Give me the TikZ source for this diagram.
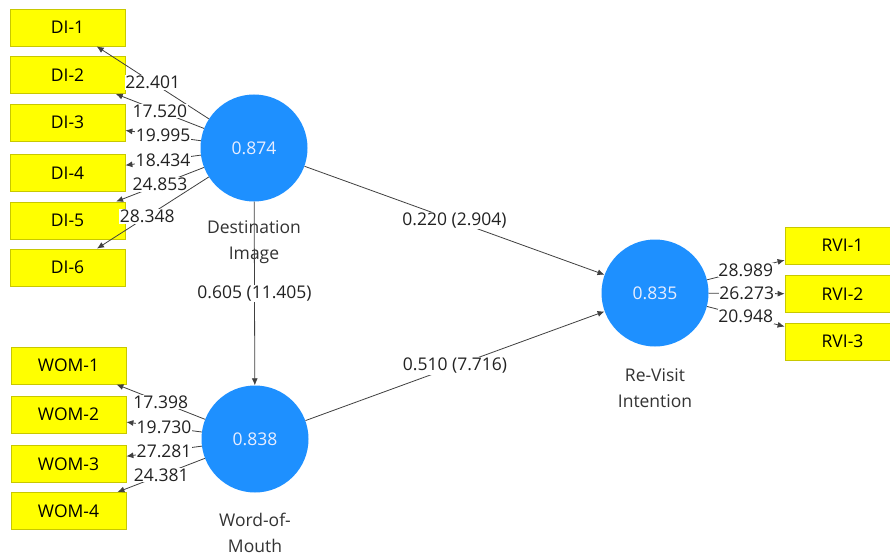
\documentclass[tikz,border=0pt]{standalone}
\usepackage{fontspec}
\setmainfont{Open Sans}
\usetikzlibrary{arrows.meta}
\definecolor{lvblue}{HTML}{1E90FF}
\definecolor{boxedge}{HTML}{C8C800}
\definecolor{boxfill}{HTML}{FFFF00}
\definecolor{linegray}{HTML}{404040}
\definecolor{txtgray}{HTML}{222222}
\definecolor{captext}{HTML}{333333}
\definecolor{innertxt}{HTML}{E8EEFF}
\begin{document}
\begin{tikzpicture}[x=1pt,y=-1pt,
  ind/.style={rectangle, draw=boxedge, line width=0.8pt, fill=boxfill, minimum width=115pt, minimum height=37pt, inner sep=0pt, font=\fontsize{17.5}{20}\selectfont, text=black},
  lat/.style={circle, fill=lvblue, minimum size=107pt, inner sep=0pt, text=innertxt, font=\fontsize{17.5}{20}\selectfont},
  ld/.style={draw=linegray, line width=0.8pt, -{Latex[length=7pt,width=6pt]}},
  val/.style={fill=white, inner sep=0.8pt, font=\fontsize{17.5}{20}\selectfont, text=txtgray},
  captxt/.style={align=center, font=\fontsize{17.5}{25.5}\selectfont, text=captext}
]
\clip (0,0) rectangle (890,556);
\fill[white] (0,0) rectangle (890,556);

% indicators
\node[ind] (DI1) at (67.5,27.5) {DI-1};
\node[ind] (DI2) at (67.5,75) {DI-2};
\node[ind] (DI3) at (67.5,122.5) {DI-3};
\node[ind] (DI4) at (67.5,173) {DI-4};
\node[ind] (DI5) at (67.5,220.5) {DI-5};
\node[ind] (DI6) at (67.5,267.5) {DI-6};
\node[ind] (WOM1) at (68.5,365.5) {WOM-1};
\node[ind] (WOM2) at (68.5,414.5) {WOM-2};
\node[ind] (WOM3) at (68.5,464) {WOM-3};
\node[ind] (WOM4) at (68.5,511) {WOM-4};
\node[ind] (RVI1) at (842.5,245.5) {RVI-1};
\node[ind] (RVI2) at (842.5,294) {RVI-2};
\node[ind] (RVI3) at (842.5,341.5) {RVI-3};

% latent variables
\node[lat] (DI) at (254,148) {0.874};
\node[lat] (WOM) at (255,439) {0.838};
\node[lat] (RVI) at (655,293) {0.835};

\node[captxt] (DIc) at (254,242) {Destination\\Image};
\node[captxt] (WOMc) at (255,533) {Word-of-\\Mouth};
\node[captxt] (RVIc) at (655,388) {Re-Visit\\Intention};

% outer loadings
\draw[ld] (DI) -- node[val, pos=0.5] {22.401} (DI1);
\draw[ld] (DI) -- node[val, pos=0.5] {17.520} (DI2);
\draw[ld] (DI) -- node[val, pos=0.5] {19.995} (DI3);
\draw[ld] (DI) -- node[val, pos=0.5] {18.434} (DI4);
\draw[ld] (DI) -- node[val, pos=0.5] {24.853} (DI5);
\draw[ld] (DI) -- node[val, pos=0.55] {28.348} (DI6);

\draw[ld] (WOM) -- node[val, pos=0.5] {17.398} (WOM1);
\draw[ld] (WOM) -- node[val, pos=0.5] {19.730} (WOM2);
\draw[ld] (WOM) -- node[val, pos=0.5] {27.281} (WOM3);
\draw[ld] (WOM) -- node[val, pos=0.5] {24.381} (WOM4);

\draw[ld] (RVI) -- node[val, pos=0.5] {28.989} (RVI1);
\draw[ld] (RVI) -- node[val, pos=0.5] {26.273} (RVI2);
\draw[ld] (RVI) -- node[val, pos=0.5] {20.948} (RVI3);

% structural paths
\draw[ld] (DI) -- node[val, pos=0.5] {0.220 (2.904)} (RVI);
\draw[ld] (WOM) -- node[val, pos=0.5] {0.510 (7.716)} (RVI);
\draw[ld] (DI) -- node[val, pos=0.5] {0.605 (11.405)} (WOM);
\end{tikzpicture}
\end{document}
